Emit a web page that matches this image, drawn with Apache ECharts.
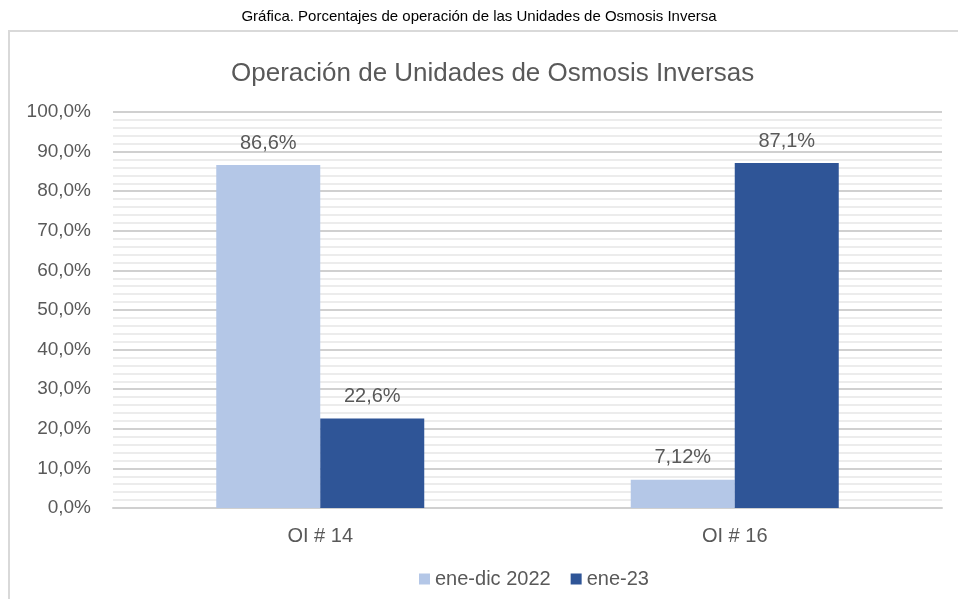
<!DOCTYPE html>
<html>
<head>
<meta charset="utf-8">
<script src="https://cdn.jsdelivr.net/npm/echarts@6/dist/echarts.min.js"></script>
<style>
    html, body { margin: 0; padding: 0; background: #fff; }
    #chart { width: 958px; height: 599px; }
</style>
</head>
<body>
<div id="chart"></div>
<script>
var categories = ['OI # 14', 'OI # 16'];
var serie2022 = [86.6, 7.12];
var serie2023 = [22.6, 87.1];
var seriesNames = ['ene-dic 2022', 'ene-23'];

var fuente = '"Liberation Sans Narrow", "Arial Narrow", "Liberation Sans", sans-serif';
var gris = '#595959';

// etiqueta con coma decimal
function fmt(v) {
    return String(v).replace('.', ',') + '%';
}

var myChart = echarts.init(document.getElementById('chart'));
var option = {
    animation: false,
    textStyle: { fontFamily: fuente },
    graphic: [{
        type: 'rect',
        shape: { x: 9, y: 31, width: 960, height: 600 },
        style: { fill: 'none', stroke: '#d9d9d9', lineWidth: 2 }
    }, {
        type: 'text',
        left: 'center',
        top: 9,
        style: { text: 'Gráfica. Porcentajes de operación de las Unidades de Osmosis Inversa', font: '15px ' + fuente, fill: '#000' }
    }],
    title: {
        text: 'Operación de Unidades de Osmosis Inversas',
        left: 226,
        top: 56,
        textStyle: { fontFamily: fuente, fontSize: 26, fontWeight: 'normal', color: gris }
    },
    legend: {
        data: seriesNames,
        bottom: 5,
        left: 414,
        itemWidth: 11,
        itemHeight: 11,
        itemGap: 20,
        icon: 'rect',
        textStyle: { fontFamily: fuente, fontSize: 20, color: gris }
    },
    grid: { left: 113, right: 16, top: 112, bottom: 91 },
    xAxis: {
        type: 'category',
        data: categories,
        axisLine: { lineStyle: { color: '#d0d0d0', width: 2 } },
        axisTick: { show: false },
        axisLabel: { fontFamily: fuente, fontSize: 20, color: gris, margin: 18 }
    },
    yAxis: {
        type: 'value',
        min: 0,
        max: 100,
        interval: 10,
        axisLine: { show: false },
        axisTick: { show: false },
        axisLabel: {
            fontFamily: fuente, fontSize: 19, color: gris, margin: 22,
            formatter: function (v) { return v.toFixed(1).replace('.', ',') + '%'; }
        },
        splitLine: { lineStyle: { color: '#d0d0d0', width: 2 } },
        minorTick: { show: false, splitNumber: 5 },
        minorSplitLine: { show: true, lineStyle: { color: '#ececec', width: 2 } }
    },
    series: [{
        name: seriesNames[0],
        type: 'bar',
        data: serie2022,
        barWidth: 104,
        barGap: '0%',
        itemStyle: { color: '#b4c7e7' },
        label: {
            show: true, position: 'top', distance: 12,
            fontFamily: fuente, fontSize: 20, color: gris,
            formatter: function (p) { return fmt(p.value); }
        }
    }, {
        name: seriesNames[1],
        type: 'bar',
        data: serie2023,
        barWidth: 104,
        barGap: '0%',
        itemStyle: { color: '#2f5597' },
        label: {
            show: true, position: 'top', distance: 12,
            fontFamily: fuente, fontSize: 20, color: gris,
            formatter: function (p) { return fmt(p.value); }
        }
    }]
};
myChart.setOption(option);
</script>
</body>
</html>
